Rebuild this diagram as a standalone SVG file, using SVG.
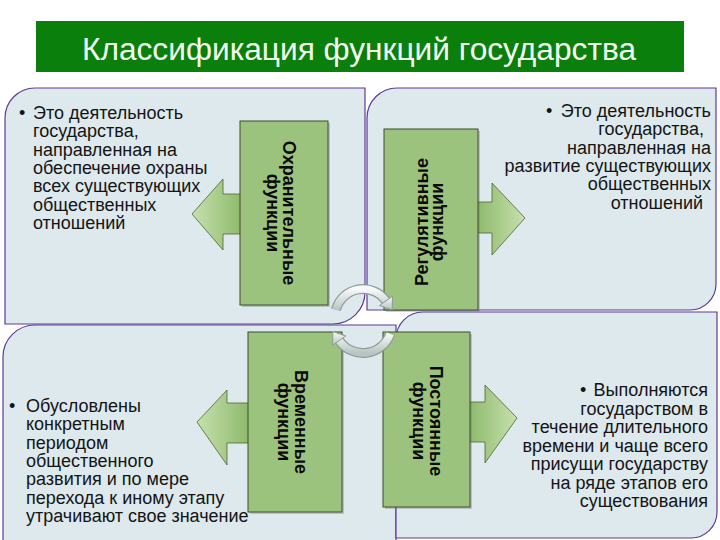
<svg xmlns="http://www.w3.org/2000/svg" width="720" height="540" viewBox="0 0 720 540">
<defs>
<style>
.panel{fill:#dde9ed;stroke:#5c3d98;stroke-width:1.2}
.body{font-family:"Liberation Sans",Arial,sans-serif;font-size:18px;fill:#141414}
.box{fill:#9cc37d;stroke:#3d4c2c;stroke-width:1}
.shadow{fill:#6f7f74;opacity:0.35}
.lbl{font-family:"Liberation Sans",Arial,sans-serif;font-size:18px;font-weight:bold;fill:#0a0a0a;text-anchor:middle}
.arrL{fill:url(#gL);stroke:#4e6432;stroke-width:0.8}
.arrR{fill:url(#gR);stroke:#4e6432;stroke-width:0.8}
.ring{fill:none;stroke:#8e9b98;stroke-width:10}
.ringIn{fill:none;stroke:url(#silver);stroke-width:7.5}
.head{fill:url(#silver);stroke:#8e9b98;stroke-width:1}
</style>
<linearGradient id="gL" x1="0" y1="0" x2="1" y2="0">
<stop offset="0" stop-color="#c6e0ae"/><stop offset="1" stop-color="#8db96a"/>
</linearGradient>
<linearGradient id="gR" x1="1" y1="0" x2="0" y2="0">
<stop offset="0" stop-color="#c6e0ae"/><stop offset="1" stop-color="#8db96a"/>
</linearGradient>
<linearGradient id="silver" x1="0" y1="0" x2="0" y2="1">
<stop offset="0" stop-color="#f7f9f8"/><stop offset="1" stop-color="#b9c5c2"/>
</linearGradient>
</defs>
<rect width="720" height="540" fill="#ffffff"/>

<g id="title">
<rect x="36" y="21" width="648" height="51" fill="#0a7f0c"/>
<text x="82" y="60" font-family="'Liberation Sans',Arial,sans-serif" font-size="31" fill="#f4fff2" textLength="554" lengthAdjust="spacingAndGlyphs">Классификация функций государства</text>
</g>

<g id="panel-tl">
<path class="panel" d="M5,118 A30,30 0 0 1 35,88 L365,88 L365,292 A32,32 0 0 1 333,324 L5,324 Z"/>
<text class="body" x="19" y="119">•</text>
<text class="body" x="33" y="119">Это деятельность</text>
<text class="body" x="33" y="137.3">государства,</text>
<text class="body" x="33" y="155.6">направленная на</text>
<text class="body" x="33" y="173.9">обеспечение охраны</text>
<text class="body" x="33" y="192.2">всех существующих</text>
<text class="body" x="33" y="210.5">общественных</text>
<text class="body" x="33" y="228.8">отношений</text>
</g>

<g id="panel-tr">
<path class="panel" d="M367,118 A30,30 0 0 1 397,88 L716,88 L716,284 A26,26 0 0 1 690,310 L367,310 Z"/>
<text class="body" x="546" y="117">•</text>
<text class="body" x="711" y="117" text-anchor="end">Это деятельность</text>
<text class="body" x="704" y="135.3" text-anchor="end">государства,</text>
<text class="body" x="711" y="153.6" text-anchor="end">направленная на</text>
<text class="body" x="711" y="171.9" text-anchor="end">развитие существующих</text>
<text class="body" x="711" y="190.2" text-anchor="end">общественных</text>
<text class="body" x="703" y="208.5" text-anchor="end">отношений</text>
</g>

<g id="panel-bl">
<path class="panel" d="M3,357 A32,32 0 0 1 35,325 L396,325 L396,545 L3,545 Z"/>
<text class="body" x="9" y="412">•</text>
<text class="body" x="26" y="412">Обусловлены</text>
<text class="body" x="26" y="430.3">конкретным</text>
<text class="body" x="26" y="448.6">периодом</text>
<text class="body" x="26" y="466.9">общественного</text>
<text class="body" x="26" y="485.2">развития и по мере</text>
<text class="body" x="26" y="503.5">перехода к иному этапу</text>
<text class="body" x="26" y="521.8">утрачивают свое значение</text>
</g>

<g id="panel-br">
<path class="panel" d="M396,339 A27,27 0 0 1 423,312 L717,312 L717,512 A26,26 0 0 1 691,538 L396,538 Z"/>
<text class="body" x="580" y="396">•</text>
<text class="body" x="708" y="396" text-anchor="end">Выполняются</text>
<text class="body" x="708" y="414.5" text-anchor="end">государством в</text>
<text class="body" x="708" y="433" text-anchor="end">течение длительного</text>
<text class="body" x="708" y="451.5" text-anchor="end">времени и чаще всего</text>
<text class="body" x="708" y="470" text-anchor="end">присущи государству</text>
<text class="body" x="708" y="488.5" text-anchor="end">на ряде этапов его</text>
<text class="body" x="708" y="507" text-anchor="end">существования</text>
</g>

<g id="node-okhranitelnye">
<polygon class="arrL" points="243,194 223,194 223,179 192,214 223,250 223,234 243,234"/>
<rect class="shadow" x="242" y="123" width="88" height="184"/>
<rect class="box" x="240" y="121" width="88" height="184"/>
<g transform="translate(284,213) rotate(90)">
<text class="lbl" x="0" y="1">Охранительные</text>
<text class="lbl" x="0" y="17">функции</text>
</g>
</g>

<g id="node-regulyativnye">
<polygon class="arrR" points="476,202 492,202 492,183 525,218 492,255 492,233 476,233"/>
<rect class="shadow" x="386" y="131" width="94" height="181"/>
<rect class="box" x="384" y="129" width="94" height="181"/>
<g transform="translate(431,222) rotate(-90)">
<text class="lbl" x="0" y="-3">Регулятивные</text>
<text class="lbl" x="0" y="12">функции</text>
</g>
</g>

<g id="node-vremennye">
<polygon class="arrL" points="250,403 227,403 227,390 197,422 227,465 227,443 250,443"/>
<rect class="shadow" x="250" y="334" width="94" height="180"/>
<rect class="box" x="248" y="332" width="94" height="180"/>
<g transform="translate(295,422) rotate(90)">
<text class="lbl" x="0" y="0">Временные</text>
<text class="lbl" x="0" y="17">функции</text>
</g>
</g>

<g id="node-postoyannye">
<polygon class="arrR" points="468,402 485,402 485,385 517,418 485,463 485,442 468,442"/>
<rect class="shadow" x="385" y="334" width="87" height="175"/>
<rect class="box" x="383" y="332" width="87" height="175"/>
<g transform="translate(427,421) rotate(90)">
<text class="lbl" x="0" y="-3">Постоянные</text>
<text class="lbl" x="0" y="14">функции</text>
</g>
</g>

<g id="connectors">
<path class="ring" d="M335.95,309.75 A28,28 0 0 1 385.9,300.9"/>
<path class="ringIn" d="M335.95,309.75 A28,28 0 0 1 385.9,300.9"/>
<polygon class="head" points="392.5,296.3 392.2,309.9 379.4,305.5"/>
<path class="ring" d="M390.25,333.9 A29,29 0 0 1 339.2,340.6"/>
<path class="ringIn" d="M390.25,333.9 A29,29 0 0 1 339.2,340.6"/>
<polygon class="head" points="332.6,345.2 332.9,331.6 345.8,336"/>
</g>
</svg>
